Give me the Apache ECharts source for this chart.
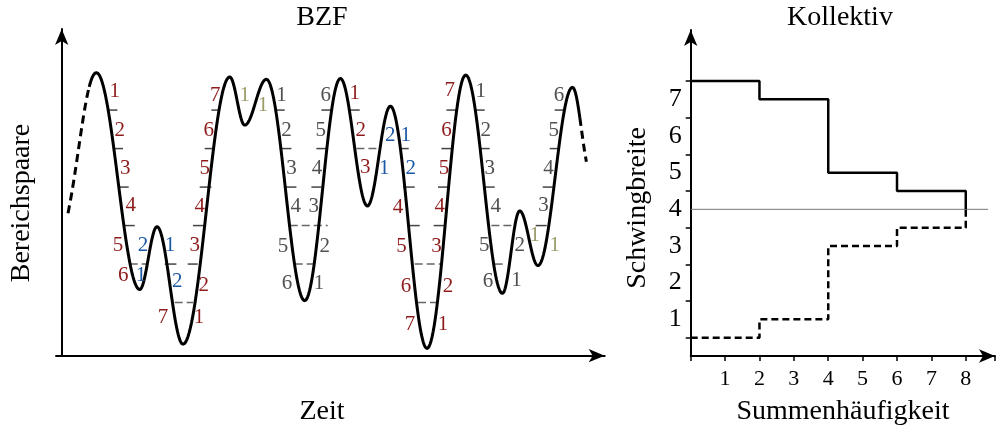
<!DOCTYPE html>
<html><head><meta charset="utf-8">
<script src="https://cdn.jsdelivr.net/npm/echarts@6/dist/echarts.min.js"></script>
<style>html,body{margin:0;padding:0;background:#fff}#c{width:998px;height:429px}</style>
</head><body><div id="c"></div>
<script>
// ---------- BZF (left): signal key points (time, class level) ----------
const curveT = [0.63, 3.47, 7.8, 9.53, 12.13, 16.8, 18.3, 20.47, 24.3, 27.87, 30.57, 32.87, 36.53, 40.4, 44.07, 45.8, 47.63, 51.07, 52.47];
const curveV = [3.32, 6.97, 1.34, 2.97, -0.08, 6.86, 5.61, 6.8, 1.05, 6.82, 3.51, 6.1, -0.19, 6.91, 1.24, 3.38, 1.96, 6.59, 4.66];
const solidFromT = 2.7, solidToT = 51.8;

// class-boundary ticks [level, t1, t2]
const boundaryTicks = [
  [6,4.63,5.57],[6,14.97,15.8],[6,21.3,22.3],[6,25.97,26.97],[6,28.8,29.8],[6,38.47,39.47],[6,41.3,42.3],[6,49.3,50.2],
  [5,5.13,6.13],[5,14.3,15.3],[5,21.8,22.97],[5,25.47,26.63],[5,33.8,34.7],[5,37.97,38.97],[5,41.8,42.8],[5,48.8,49.8],
  [4,5.8,6.7],[4,13.8,14.97],[4,22.3,23.47],[4,24.97,25.97],[4,34.13,35.3],[4,37.63,38.8],[4,42.3,43.3],[4,48.1,49.1],
  [3,6.3,7.3],[3,13.13,14.3],[3,34.6,35.8],[3,37.2,38.3],[3,47.4,48.5],
  [2,10.3,11.47],[2,12.6,13.6]
];
// range-pair counting lines [level, t1, t2]
const countLines = [
  [5,29.47,31.63],
  [3,22.8,26.6],[3,42.97,45.0],
  [2,6.8,8.47],[2,23.3,25.13],[2,35.3,38.0],[2,43.3,44.5],
  [1,11.3,13.13],[1,35.63,37.47]
];
// labels [text, time, level]
const redLabels = [
  ["1",5.3,6.47],["2",5.8,5.48],["3",6.35,4.49],["4",6.9,3.51],["5",5.63,2.49],["6",6.15,1.71],["7",10.13,0.61],
  ["1",13.73,0.61],["2",14.2,1.45],["3",13.3,2.49],["4",13.8,3.49],["5",14.3,4.49],["6",14.7,5.48],["7",15.35,6.39],
  ["1",29.3,6.42],["2",29.9,5.48],["3",30.35,4.51],["4",33.63,3.47],["5",33.97,2.45],["6",34.42,1.43],["7",34.83,0.44],
  ["1",38.13,0.42],["2",38.63,1.41],["3",37.47,2.45],["4",37.8,3.49],["5",38.23,4.49],["6",38.47,5.48],["7",38.8,6.52]
];
const blueLabels = [
  ["2",8.13,2.49],["1",7.92,1.71],["1",10.83,2.49],["2",11.56,1.55],
  ["2",32.85,5.35],["1",34.4,5.35],["1",32.25,4.49],["2",34.9,4.49]
];
const greyLabels = [
  ["1",21.97,6.39],["2",22.47,5.48],["3",22.97,4.49],["4",23.4,3.49],["5",22.13,2.45],["6",22.53,1.5],
  ["1",25.73,1.5],["2",26.3,2.45],["3",25.2,3.49],["4",25.53,4.49],["5",25.9,5.48],["6",26.4,6.39],
  ["1",41.9,6.48],["2",42.4,5.48],["3",42.8,4.49],["4",43.4,3.49],["5",42.25,2.49],["6",42.63,1.56],
  ["1",45.47,1.58],["2",45.8,2.49],["3",48.17,3.51],["4",48.67,4.49],["5",49.2,5.48],["6",49.72,6.39]
];
const oliveLabels = [["1",18.3,6.39],["1",20.13,6.13],["1",47.3,2.75],["1",49.3,2.49]];

// ---------- Kollektiv (right) ----------
const freq  = [0, 2, 4, 6, 8];
const upper = [7.5, 7, 5, 4.5, 4];
const lower = [0.5, 1, 3, 3.5, 4];
const meanLevel = 4;
const meanLineEnd = 8.65;
const xTickLabels = [1,2,3,4,5,6,7,8];
const yTickLabels = [1,2,3,4,5,6,7];

const FONT = "'Liberation Serif','DejaVu Serif',serif";
const LBL_FONT = "21px " + FONT;
const K = 0.363;

function curveRender(params, api) {
  if (params.dataIndex !== 0) return null;
  const pts = curveT.map((t, i) => api.coord([t, curveV[i]]));
  const n = pts.length, samples = [];
  for (let i = 0; i < n - 1; i++) {
    const a = pts[i], b = pts[i + 1], dx = b[0] - a[0];
    const c1 = i === 0 ? [a[0] + 0.4 * (b[0] - a[0]), a[1] + 0.4 * (b[1] - a[1])] : [a[0] + K * dx, a[1]];
    const c2 = i + 1 === n - 1 ? [b[0] + 0.4 * (a[0] - b[0]), b[1] + 0.4 * (a[1] - b[1])] : [b[0] - K * dx, b[1]];
    for (let s = (i === 0 ? 0 : 1); s <= 40; s++) {
      const u = s / 40, w = 1 - u;
      samples.push([
        w*w*w*a[0] + 3*w*w*u*c1[0] + 3*w*u*u*c2[0] + u*u*u*b[0],
        w*w*w*a[1] + 3*w*w*u*c1[1] + 3*w*u*u*c2[1] + u*u*u*b[1]
      ]);
    }
  }
  const xs = api.coord([solidFromT, 0])[0], xe = api.coord([solidToT, 0])[0];
  const i0 = samples.findIndex(p => p[0] >= xs);
  const i1 = samples.findIndex(p => p[0] >= xe);
  const lead = samples.slice(0, i0 + 1), main = samples.slice(i0, i1 + 1), tail = samples.slice(i1);
  const st = (dash) => ({ stroke: '#000', lineWidth: 3, fill: null, lineDash: dash, lineCap: 'butt', lineJoin: 'round' });
  return { type: 'group', children: [
    { type: 'polyline', shape: { points: lead }, style: st([8, 5]) },
    { type: 'polyline', shape: { points: main }, style: st(null) },
    { type: 'polyline', shape: { points: tail }, style: st([8, 5]) }
  ]};
}
function segRender(list, color, width, dash) {
  return function (params, api) {
    const r = list[params.dataIndex];
    const p1 = api.coord([r[1], r[0]]), p2 = api.coord([r[2], r[0]]);
    return { type: 'line', shape: { x1: p1[0], y1: p1[1], x2: p2[0], y2: p2[1] },
      style: { stroke: color, lineWidth: width, lineDash: dash } };
  };
}
function labelSeries(list, color) {
  return {
    type: 'custom', xAxisIndex: 0, yAxisIndex: 0, z: 5,
    data: list.map(r => [r[1], r[2]]),
    renderItem: function (params, api) {
      const r = list[params.dataIndex];
      const p = api.coord([r[1], r[2]]);
      return { type: 'text', x: p[0], y: p[1],
        style: { text: r[0], fill: color, font: LBL_FONT, align: 'center', verticalAlign: 'middle',
                 textAlign: 'center', textVerticalAlign: 'middle' } };
    }
  };
}

const chart = echarts.init(document.getElementById('c'));
const arrowLine = (onZero) => ({ show: true, onZero: onZero, lineStyle: { color: '#000', width: 2 }, symbol: ['none', 'arrow'], symbolSize: [10, 16] });
const noTxt = { show: false };
const T = (text, x, y, rot) => ({ type: 'text', x: x, y: y, rotation: rot || 0,
  style: { text: text, font: '28px ' + FONT, fill: '#000', align: 'center', verticalAlign: 'middle' } });

const option = {
  animation: false,
  backgroundColor: '#fff',
  grid: [
    { left: 56, top: 29, width: 548.7, height: 326.7 },         // BZF
    { left: 690.7, top: 30, width: 306.3, height: 326 },        // Kollektiv
    { left: 690.7, top: 81, width: 306.3, height: 256.7 }       // Kollektiv class boundary ticks
  ],
  xAxis: [
    { gridIndex: 0, type: 'value', min: -0.57, max: 54.3, axisLine: arrowLine(false), axisTick: noTxt, axisLabel: noTxt, splitLine: noTxt },
    { gridIndex: 1, type: 'value', min: 0, max: 8.85, interval: 1,
      axisLine: arrowLine(false), axisTick: { show: true, inside: false, length: 5, lineStyle: { color: '#000', width: 1.5 } },
      axisLabel: { show: true, margin: 12, color: '#000', fontFamily: 'Liberation Serif', fontSize: 22,
        formatter: v => xTickLabels.indexOf(v) >= 0 ? String(v) : '' },
      splitLine: noTxt },
    { gridIndex: 2, type: 'value', min: 0, max: 8.85, show: false }
  ],
  yAxis: [
    { gridIndex: 0, type: 'value', min: -0.38, max: 8.106, axisLine: arrowLine(true), axisTick: noTxt, axisLabel: noTxt, splitLine: noTxt },
    { gridIndex: 1, type: 'value', min: 0, max: 8.89, interval: 1,
      axisLine: arrowLine(false), axisTick: noTxt,
      axisLabel: { show: true, margin: 9, color: '#000', fontFamily: 'Liberation Serif', fontSize: 26,
        formatter: v => yTickLabels.indexOf(v) >= 0 ? String(v) : '' },
      splitLine: noTxt },
    { gridIndex: 2, type: 'value', min: 0.5, max: 7.5, interval: 1,
      axisLine: { show: false }, axisLabel: noTxt, splitLine: noTxt,
      axisTick: { show: true, inside: false, length: 5, lineStyle: { color: '#000', width: 1.5 } } }
  ],
  series: [
    { type: 'custom', xAxisIndex: 0, yAxisIndex: 0, z: 4, data: curveT.map((t, i) => [t, curveV[i]]), renderItem: curveRender },
    { type: 'custom', xAxisIndex: 0, yAxisIndex: 0, z: 3, data: boundaryTicks.map(r => [r[1], r[0]]),
      renderItem: segRender(boundaryTicks, '#444', 1.5, null) },
    { type: 'custom', xAxisIndex: 0, yAxisIndex: 0, z: 3, data: countLines.map(r => [r[1], r[0]]),
      renderItem: segRender(countLines, '#666', 1.5, [8, 4]) },
    labelSeries(redLabels, '#8e1c1c'),
    labelSeries(blueLabels, '#1d58a4'),
    labelSeries(greyLabels, '#505050'),
    labelSeries(oliveLabels, '#9a9b68'),
    { type: 'line', xAxisIndex: 1, yAxisIndex: 1, symbol: 'none', z: 2,
      data: [[0, meanLevel], [meanLineEnd, meanLevel]], lineStyle: { color: '#777', width: 1 } },
    { type: 'line', xAxisIndex: 1, yAxisIndex: 1, symbol: 'none', step: 'end', z: 3,
      data: freq.map((f, i) => [f, upper[i]]), lineStyle: { color: '#000', width: 2.5 } },
    { type: 'line', xAxisIndex: 1, yAxisIndex: 1, symbol: 'none', step: 'end', z: 3,
      data: freq.map((f, i) => [f, lower[i]]), lineStyle: { color: '#000', width: 2.5, type: [7, 4] } }
  ],
  graphic: [
    T('BZF', 322, 18), T('Kollektiv', 840, 18), T('Zeit', 322, 412), T('Summenhäufigkeit', 843, 412),
    T('Bereichspaare', 22, 203, Math.PI / 2), T('Schwingbreite', 638, 208, Math.PI / 2)
  ]
};
chart.setOption(option);
</script>
</body></html>
